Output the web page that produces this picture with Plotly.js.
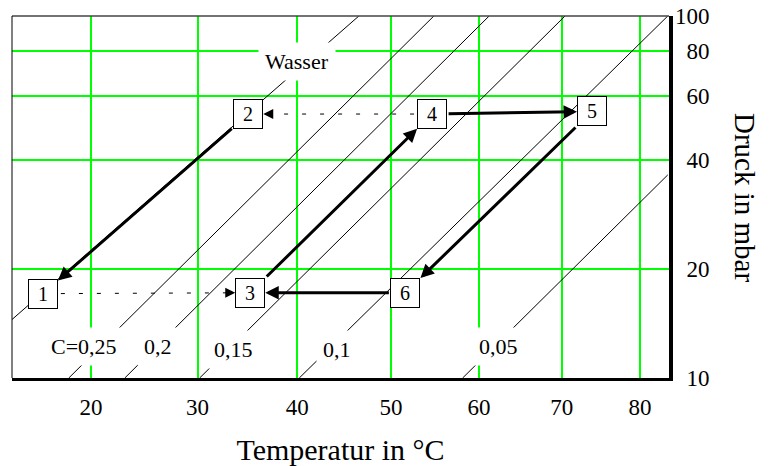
<!DOCTYPE html>
<html><head><meta charset="utf-8">
<script src="https://cdn.plot.ly/plotly-3.0.1.min.js"></script>
<style>html,body{margin:0;padding:0;background:#fff}#chart{width:771px;height:466px}</style>
</head><body><div id="chart"></div>
<script>
// Water saturation line and isosteres (loading C): endpoints, T in °C, p in mbar
const lineNames = ['Wasser', 'C=0,25', '0,2', '0,15', '0,1', '0,05'];
const lineT1 = [13.0, 18.0, 23.1, 30.2, 40.2, 58.1];
const lineP1 = [14.5, 10, 10, 10, 10, 10];
const lineT2 = [46.5, 54.8, 61.2, 70.4, 83.7, 83.7];
const lineP2 = [100, 100, 100, 100, 100, 36.4];
// where each line label sits (T in °C, p in mbar)
const labelT = [40.0, 19.4, 26.2, 33.5, 44.2, 62.3];
const labelP = [75.1, 12.2, 12.2, 12.0, 12.0, 12.25];

// cycle state points
const stateNames = ['1', '2', '3', '4', '5', '6'];
const stateT = [15.7, 35.0, 35.2, 54.6, 73.8, 51.6];
const stateP = [17.1, 53.6, 17.2, 53.6, 54.5, 17.2];

// process steps (indices into state arrays)
const solidFrom = [1, 2, 3, 4, 5];
const solidTo   = [0, 3, 4, 5, 2];
const dottedFrom = [0, 3];
const dottedTo   = [2, 1];

// axis ticks
const xTicks = [20, 30, 40, 50, 60, 70, 80];
const yTicks = [10, 20, 40, 60, 80, 100];
const xTitle = 'Temperatur in °C';
const yTitle = 'Druck in mbar';

// ---- transforms: x axis is linear in -1/T (Dühring / van 't Hoff plot), y axis log
const u = T => -1000 / (T + 273.15);
const lg = p => Math.log10(p);
const FONT = '"Liberation Serif", "Times New Roman", serif';
const GREEN = 'rgb(0,255,0)';

const traces = [];
for (let i = 0; i < lineNames.length; i++) {
  traces.push({
    x: [u(lineT1[i]), u(lineT2[i])], y: [lineP1[i], lineP2[i]],
    mode: 'lines', line: {color: 'black', width: 1},
    hoverinfo: 'skip', showlegend: false
  });
}
for (let k = 0; k < dottedFrom.length; k++) {
  const a = dottedFrom[k], b = dottedTo[k];
  traces.push({
    x: [u(stateT[a]), u(stateT[b])], y: [stateP[a], stateP[b]],
    mode: 'lines', line: {color: 'black', width: 1, dash: '4px,14px'},
    hoverinfo: 'skip', showlegend: false
  });
}

const annotations = [];
// line labels with white background
for (let i = 0; i < lineNames.length; i++) {
  annotations.push({
    x: u(labelT[i]), y: lg(labelP[i]), xref: 'x', yref: 'y',
    text: lineNames[i], showarrow: false, bgcolor: 'white', borderpad: 6,
    font: {family: FONT, size: 22, color: 'black'}
  });
}
// solid process arrows
const solidStand = [20, 21, 15, 21, 15];
for (let k = 0; k < solidFrom.length; k++) {
  const a = solidFrom[k], b = solidTo[k];
  annotations.push({
    x: u(stateT[b]), y: lg(stateP[b]), xref: 'x', yref: 'y',
    ax: u(stateT[a]), ay: lg(stateP[a]), axref: 'x', ayref: 'y',
    text: '', showarrow: true, arrowhead: 2, arrowsize: 0.9, arrowwidth: 3,
    arrowcolor: 'black', standoff: solidStand[k], startstandoff: solidStand[k]
  });
}
// arrowheads of the dotted steps
for (let k = 0; k < dottedFrom.length; k++) {
  const a = dottedFrom[k], b = dottedTo[k];
  const dir = stateT[a] < stateT[b] ? -1 : 1;
  annotations.push({
    x: u(stateT[b]), y: lg(stateP[b]), xref: 'x', yref: 'y',
    ax: dir * 26, ay: 0,
    text: '', showarrow: true, arrowhead: 2, arrowsize: 2, arrowwidth: 1,
    arrowcolor: 'black', standoff: 15
  });
}
// state boxes
for (let i = 0; i < stateNames.length; i++) {
  annotations.push({
    x: u(stateT[i]), y: lg(stateP[i]), xref: 'x', yref: 'y',
    text: stateNames[i], showarrow: false, bgcolor: 'white',
    bordercolor: 'black', borderwidth: 1, borderpad: 0, width: 28, height: 28,
    font: {family: FONT, size: 20, color: 'black'}
  });
}
// y title (reads top to bottom)
annotations.push({
  xref: 'paper', yref: 'paper', x: 1.1157, y: 0.5, xanchor: 'center', yanchor: 'middle',
  textangle: 90, text: yTitle, showarrow: false,
  font: {family: FONT, size: 29, color: 'black'}
});

const layout = {
  width: 771, height: 466,
  margin: {l: 12, r: 102, t: 16, b: 88},
  paper_bgcolor: 'white', plot_bgcolor: 'white',
  showlegend: false,
  font: {family: FONT, color: 'black'},
  xaxis: {
    type: 'linear', range: [-3.4946, -2.8010],
    tickmode: 'array', tickvals: xTicks.map(u), ticktext: xTicks.map(String),
    showgrid: true, gridcolor: GREEN, gridwidth: 2, zeroline: false,
    showline: true, linecolor: 'black', linewidth: 3, ticks: '',
    tickfont: {family: FONT, size: 23, color: 'black'}, ticklabelstandoff: 6,
    title: {text: xTitle, font: {family: FONT, size: 30, color: 'black'}, standoff: 22},
    fixedrange: true
  },
  yaxis: {
    type: 'log', range: [1, 2], side: 'right',
    tickmode: 'array', tickvals: yTicks,
    ticktext: yTicks.map(v => (v < 100 ? '\u2007' : '') + v),
    showgrid: true, gridcolor: GREEN, gridwidth: 2, zeroline: false,
    showline: true, linecolor: 'black', linewidth: 3.5, ticks: '',
    tickfont: {family: FONT, size: 23, color: 'black'}, ticklabelstandoff: -2,
    fixedrange: true
  },
  shapes: [
    {type: 'line', xref: 'paper', yref: 'paper', x0: 0, x1: 1, y0: 1, y1: 1,
     line: {color: '#444', width: 1.5}, layer: 'above'},
    {type: 'line', xref: 'paper', yref: 'paper', x0: 0, x1: 0, y0: 0, y1: 1,
     line: {color: 'black', width: 1}, layer: 'above'}
  ],
  annotations: annotations
};

Plotly.newPlot('chart', traces, layout, {displayModeBar: false, staticPlot: true});
</script>
</body></html>
